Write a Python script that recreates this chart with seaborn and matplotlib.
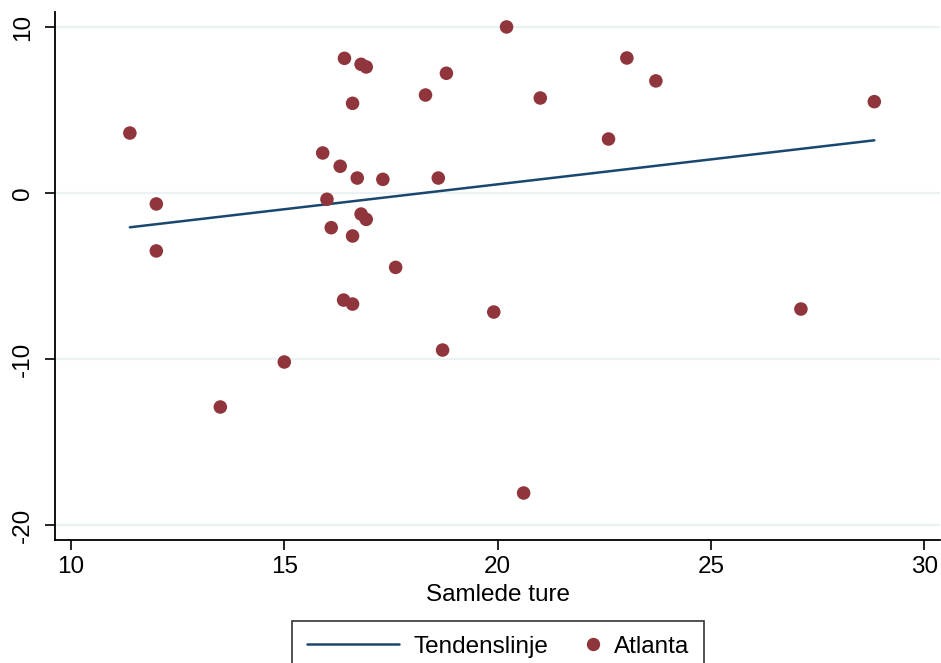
import numpy as np
import pandas as pd
import matplotlib
matplotlib.use("Agg")
import matplotlib.pyplot as plt
from matplotlib.lines import Line2D
from matplotlib.legend_handler import HandlerBase
import seaborn as sns

# Data
samlede_ture = [11.38, 12.0, 12.0, 13.5, 15.0, 15.9, 16.0, 16.1, 16.31, 16.41,
                16.39, 16.6, 16.6, 16.6, 16.71, 16.8, 16.92, 16.8, 16.92, 17.31,
                17.61, 18.31, 18.61, 18.8, 18.71, 19.91, 20.21, 20.61, 21.0, 22.6,
                23.03, 23.71, 27.11, 28.83]
atlanta = [3.61, -0.66, -3.49, -12.89, -10.18, 2.41, -0.38, -2.09, 1.61, 8.11,
           -6.45, -6.69, -2.59, 5.40, 0.90, 7.75, 7.59, -1.27, -1.59, 0.82,
           -4.48, 5.90, 0.90, 7.21, -9.46, -7.17, 10.0, -18.07, 5.72, 3.25,
           8.13, 6.75, -6.99, 5.50]
x_ticks = [10, 15, 20, 25, 30]
y_ticks = [-20, -10, 0, 10]
x_label = "Samlede ture"
series_names = ["Tendenslinje", "Atlanta"]

df = pd.DataFrame({"x": samlede_ture, "y": atlanta})
slope, intercept = np.polyfit(df["x"], df["y"], 1)
trend = pd.DataFrame({"x": [df["x"].min(), df["x"].max()]})
trend["y"] = intercept + slope * trend["x"]

sns.set_style("white")
plt.rcParams["font.family"] = ["Liberation Sans", "DejaVu Sans"]
plt.rcParams["text.color"] = "black"
plt.rcParams["axes.labelcolor"] = "black"
plt.rcParams["xtick.color"] = "black"
plt.rcParams["ytick.color"] = "black"

FS = 17.5
fig = plt.figure(figsize=(9.41, 6.63), dpi=100)
ax = fig.add_axes([55 / 941, 1 - 540 / 663, (940 - 55) / 941, (540 - 12) / 663])

line_color = "#1a476f"
dot_color = "#90353b"
grid_color = "#eaf2f3"

for yt in y_ticks:
    ax.axhline(yt, color=grid_color, lw=1.6, zorder=0)

sns.lineplot(data=trend, x="x", y="y", ax=ax, color=line_color, lw=1.8,
             label=series_names[0], zorder=2)
sns.scatterplot(data=df, x="x", y="y", ax=ax, color=dot_color, s=95,
                edgecolor="none", label=series_names[1], zorder=3)

ax.set_xlim(9.625, 30.37)
ax.set_ylim(-20.9, 10.9)
ax.set_xticks(x_ticks)
ax.set_yticks(y_ticks)
ax.set_xticklabels([str(t) for t in x_ticks], fontsize=FS)
ax.set_yticklabels([str(t) for t in y_ticks], fontsize=FS, rotation=90, va="center")
ax.set_xlabel(x_label, fontsize=FS, labelpad=4.5)
ax.set_ylabel("")
ax.tick_params(axis="both", direction="out", length=7, width=1.2, color="black",
               bottom=True, left=True)
ax.tick_params(axis="x", pad=4.5)
ax.tick_params(axis="y", pad=8)
for side in ["top", "right"]:
    ax.spines[side].set_visible(False)
for side in ["left", "bottom"]:
    ax.spines[side].set_color("black")
    ax.spines[side].set_linewidth(1.3)
ax.grid(False)
ax.get_legend().remove()


class RightDotHandler(HandlerBase):
    def create_artists(self, legend, orig_handle, xdescent, ydescent, width,
                       height, fontsize, trans):
        m = Line2D([width - xdescent - 5.0], [height / 2 - ydescent],
                   marker="o", ls="none", color=dot_color, markersize=9.6,
                   markeredgewidth=0)
        m.set_transform(trans)
        return [m]


line_handle = Line2D([], [], color=line_color, lw=1.8)
dot_handle = Line2D([], [], marker="o", ls="none", color=dot_color)
leg = fig.legend([line_handle, dot_handle], series_names, loc="upper center", ncol=2,
                 bbox_to_anchor=(498 / 941, 1 - 621 / 663), fontsize=FS,
                 frameon=True, fancybox=False, handlelength=3.8,
                 columnspacing=-1.7, borderpad=0.6, handletextpad=0.6,
                 borderaxespad=0,
                 handler_map={dot_handle: RightDotHandler()})
leg.get_frame().set_edgecolor("black")
leg.get_frame().set_linewidth(1.2)

fig.savefig("out.png", dpi=100)
